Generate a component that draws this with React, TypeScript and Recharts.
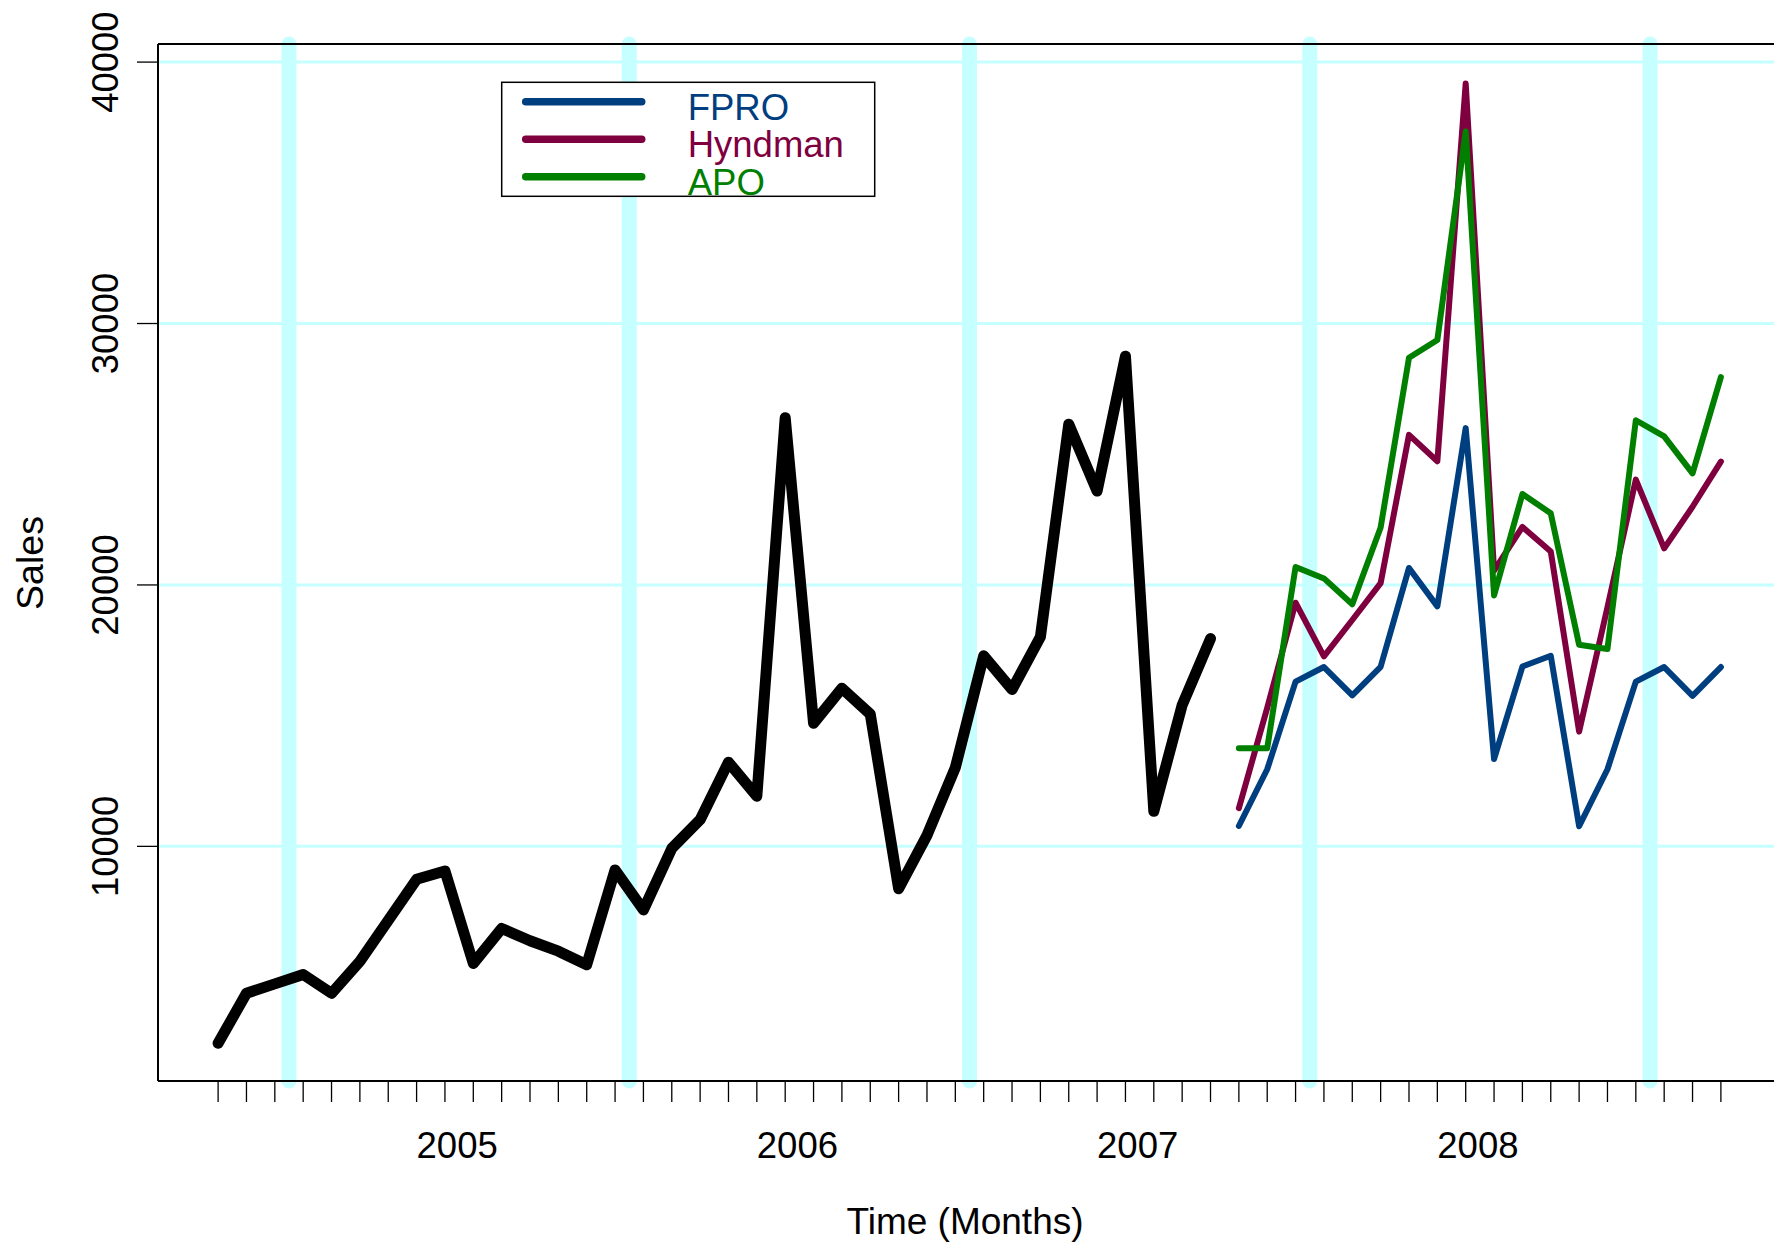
import React from "react";
import { LineChart, Line, XAxis, YAxis, ReferenceLine } from "recharts";

// Monthly sales, one point per month (index 0 = first observed month)
const actualSales = [
  2470, 4380, 4740, 5100, 4380, 5600, 7170, 8740, 9060, 5520, 6860, 6390,
  5990, 5470, 9100, 7570, 9920, 11020, 13220, 11920, 26400, 14710, 16050, 15060,
  8380, 10420, 13010, 17290, 16000, 18010, 26150, 23590, 28750, 11340, 15400, 17950,
];

// 18-month forecasts that follow the observed series
const fproForecast = [
  10780, 12950, 16300, 16860, 15780, 16870, 20650, 19180, 26000,
  13340, 16880, 17290, 10770, 12950, 16300, 16860, 15760, 16860,
];
const hyndmanForecast = [
  11460, 15300, 19320, 17270, 18660, 20070, 25740, 24730, 39180,
  20550, 22220, 21280, 14390, 19150, 24030, 21400, 22990, 24720,
];
const apoForecast = [
  13750, 13750, 20690, 20250, 19260, 22200, 28690, 29370, 37350,
  19600, 23480, 22740, 17710, 17550, 26300, 25680, 24270, 27950,
];

const yearLabels = ["2005", "2006", "2007", "2008"];
const yearPositions = [8.43, 20.43, 32.43, 44.43];
const valueTicks = [10000, 20000, 30000, 40000];
const yearBreaks = [2.5, 14.5, 26.5, 38.5, 50.5];

const seriesInfo = [
  { key: "fpro", name: "FPRO", color: "#003F7F" },
  { key: "hyndman", name: "Hyndman", color: "#7F003F" },
  { key: "apo", name: "APO", color: "#007F00" },
];

const totalMonths = actualSales.length + fproForecast.length;
const monthTicks = Array.from({ length: totalMonths }, (_, i) => i);

const rows = monthTicks.map((t) => {
  const f = t - actualSales.length;
  return {
    t,
    actual: t < actualSales.length ? actualSales[t] : undefined,
    fpro: f >= 0 ? fproForecast[f] : undefined,
    hyndman: f >= 0 ? hyndmanForecast[f] : undefined,
    apo: f >= 0 ? apoForecast[f] : undefined,
  };
});

const X_DOMAIN: [number, number] = [-2.12, totalMonths - 1 + 2.12];
const Y_DOMAIN: [number, number] = [1025, 40692];
const FONT = "'Liberation Sans', Arial, Helvetica, sans-serif";
const GRID = "#C6FFFF";

const MonthTick = (props: any) => {
  const { x, y, payload } = props;
  const v = payload.value as number;
  if (Number.isInteger(v)) {
    return <line x1={x} x2={x} y1={y} y2={y + 21} stroke="#000" strokeWidth={1.3} />;
  }
  const idx = yearPositions.indexOf(v);
  return (
    <text x={x} y={y + 77} textAnchor="middle" fontSize={36.5} fontFamily={FONT} fill="#000">
      {yearLabels[idx]}
    </text>
  );
};

const ValueTick = (props: any) => {
  const { x, y, payload } = props;
  const tx = 118.5;
  return (
    <g>
      <line x1={x - 21} x2={x} y1={y} y2={y} stroke="#000" strokeWidth={1.3} />
      <text
        x={tx}
        y={y}
        textAnchor="middle"
        fontSize={36.5}
        fontFamily={FONT}
        fill="#000"
        transform={`rotate(-90, ${tx}, ${y})`}
      >
        {payload.value}
      </text>
    </g>
  );
};

const Overlay = () => (
  <svg
    width={1774}
    height={1244}
    style={{ position: "absolute", left: 0, top: 0, pointerEvents: "none" }}
  >
    <text x={965} y={1234} textAnchor="middle" fontSize={37} fontFamily={FONT} fill="#000">
      Time (Months)
    </text>
    <text
      x={43}
      y={563}
      textAnchor="middle"
      fontSize={37.5}
      fontFamily={FONT}
      fill="#000"
      transform="rotate(-90, 43, 563)"
    >
      Sales
    </text>
    <g transform="translate(501.7, 82.3)">
      <rect x={0} y={0} width={373} height={114} fill="#fff" stroke="#000" strokeWidth={1.5} />
      {seriesInfo.map((s, i) => (
        <g key={s.key}>
          <line
            x1={24}
            x2={140}
            y1={19.4 + i * 37.5}
            y2={19.4 + i * 37.5}
            stroke={s.color}
            strokeWidth={7.5}
            strokeLinecap="round"
          />
          <text x={186} y={37.7 + i * 37.5} fontSize={36.5} fontFamily={FONT} fill={s.color}>
            {s.name}
          </text>
        </g>
      ))}
    </g>
  </svg>
);

export default function App() {
  return (
    <div
      style={{
        position: "absolute",
        left: 0,
        top: 0,
        width: 1774,
        height: 1244,
        overflow: "hidden",
        background: "#fff",
        fontFamily: FONT,
      }}
    >
      <LineChart
        width={1800}
        height={1244}
        data={rows}
        margin={{ top: 44, right: 19, left: 98, bottom: 63 }}
      >
        <XAxis
          dataKey="t"
          type="number"
          domain={X_DOMAIN}
          ticks={[...monthTicks, ...yearPositions]}
          interval={0}
          tickLine={false}
          tickSize={0}
          tickMargin={0}
          tick={MonthTick}
          height={100}
          allowDataOverflow
          axisLine={{ stroke: "#000", strokeWidth: 2 }}
        />
        <YAxis
          type="number"
          domain={Y_DOMAIN}
          ticks={valueTicks}
          interval={0}
          tickLine={false}
          tickSize={0}
          tickMargin={0}
          tick={ValueTick}
          width={60}
          allowDataOverflow
          axisLine={{ stroke: "#000", strokeWidth: 2 }}
        />
        {valueTicks.map((v) => (
          <ReferenceLine key={`h${v}`} y={v} stroke={GRID} strokeWidth={3} zIndex={-50} />
        ))}
        {yearBreaks.map((v) => (
          <ReferenceLine
            key={`v${v}`}
            x={v}
            stroke={GRID}
            strokeWidth={15}
            strokeLinecap="round"
            zIndex={-50}
          />
        ))}
        <ReferenceLine y={Y_DOMAIN[1]} stroke="#000" strokeWidth={2} />
        <ReferenceLine x={X_DOMAIN[1]} stroke="#000" strokeWidth={2} />
        <Line
          dataKey="actual"
          type="linear"
          stroke="#000"
          strokeWidth={11}
          strokeLinejoin="round"
          strokeLinecap="round"
          dot={false}
          activeDot={false}
          isAnimationActive={false}
        />
        {seriesInfo.map((s) => (
          <Line
            key={s.key}
            dataKey={s.key}
            name={s.name}
            type="linear"
            stroke={s.color}
            strokeWidth={6}
            strokeLinejoin="round"
            strokeLinecap="round"
            dot={false}
            activeDot={false}
            isAnimationActive={false}
          />
        ))}
      </LineChart>
      <Overlay />
    </div>
  );
}
